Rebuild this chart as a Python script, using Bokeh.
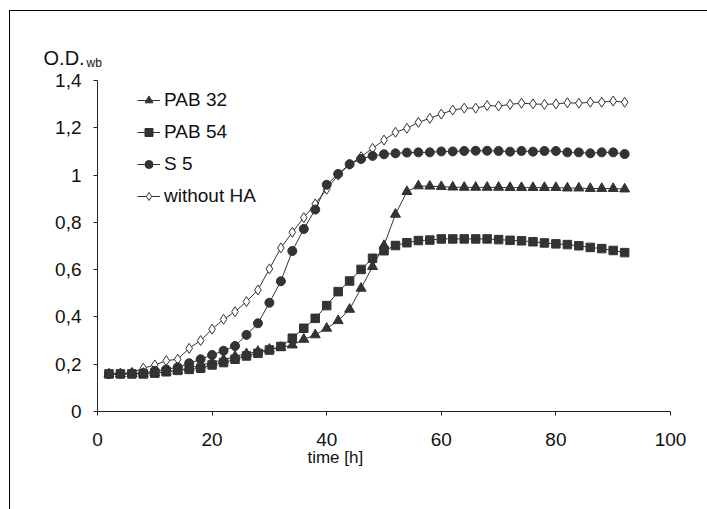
from bokeh.plotting import figure
from bokeh.models import Range1d, FixedTicker, Legend, LegendItem, Label
from bokeh.embed import file_html
from bokeh.resources import INLINE

# ---- data ----
time_h = [2, 4, 6, 8, 10, 12, 14, 16, 18, 20, 22, 24, 26, 28, 30, 32, 34, 36, 38, 40, 42, 44, 46,
          48, 50, 52, 54, 56, 58, 60, 62, 64, 66, 68, 70, 72, 74, 76, 78, 80, 82, 84, 86, 88, 90, 92]

pab32 = [0.158, 0.159, 0.160, 0.161, 0.164, 0.168, 0.174, 0.184, 0.196, 0.207, 0.219, 0.233, 0.244,
         0.254, 0.263, 0.271, 0.281, 0.305, 0.324, 0.352, 0.384, 0.432, 0.521, 0.613, 0.702, 0.834,
         0.930, 0.954, 0.953, 0.951, 0.949, 0.948, 0.948, 0.948, 0.948, 0.947, 0.947, 0.947, 0.947,
         0.947, 0.945, 0.945, 0.943, 0.943, 0.943, 0.941]

pab54 = [0.159, 0.159, 0.159, 0.159, 0.162, 0.168, 0.174, 0.178, 0.183, 0.197, 0.207, 0.221, 0.235,
         0.246, 0.260, 0.275, 0.310, 0.352, 0.394, 0.448, 0.507, 0.552, 0.601, 0.648, 0.680, 0.702,
         0.714, 0.723, 0.725, 0.730, 0.730, 0.730, 0.730, 0.730, 0.727, 0.724, 0.722, 0.718, 0.713,
         0.709, 0.706, 0.701, 0.694, 0.689, 0.681, 0.672]

s5 = [0.159, 0.160, 0.161, 0.163, 0.172, 0.178, 0.187, 0.204, 0.221, 0.239, 0.257, 0.277, 0.324,
      0.373, 0.460, 0.551, 0.679, 0.772, 0.854, 0.959, 1.005, 1.046, 1.068, 1.081, 1.088, 1.092,
      1.095, 1.096, 1.096, 1.100, 1.100, 1.102, 1.103, 1.103, 1.102, 1.099, 1.102, 1.099, 1.102,
      1.102, 1.096, 1.096, 1.092, 1.096, 1.096, 1.089]

without_ha = [0.159, 0.160, 0.165, 0.183, 0.197, 0.215, 0.221, 0.267, 0.300, 0.348, 0.390, 0.422,
              0.465, 0.514, 0.603, 0.692, 0.758, 0.820, 0.878, 0.940, 1.000, 1.045, 1.078, 1.113,
              1.148, 1.181, 1.198, 1.223, 1.240, 1.258, 1.275, 1.283, 1.283, 1.294, 1.292, 1.299,
              1.304, 1.301, 1.299, 1.301, 1.306, 1.304, 1.308, 1.308, 1.313, 1.308]

series_names = ["PAB 32", "PAB 54", "S 5", "without HA"]

x_ticks = [0, 20, 40, 60, 80, 100]
y_ticks = [0, 0.2, 0.4, 0.6, 0.8, 1.0, 1.2, 1.4]
y_tick_labels = ["0", "0,2", "0,4", "0,6", "0,8", "1", "1,2", "1,4"]

x_label = "time [h]"
y_label_main = "O.D."
y_label_sub = "wb"

# ---- figure ----
FONT = "Liberation Sans"
INK = "#333333"
TXT = "#111111"

p = figure(width=707, height=509, output_backend="svg", toolbar_location=None,
           x_range=Range1d(0, 100), y_range=Range1d(0, 1.4),
           min_border_left=97, min_border_right=37, min_border_top=80, min_border_bottom=98)
# thin frame lines along the top and left of the picture (as in the scanned figure)
p.styles = {
    "background": "linear-gradient(#000,#000) 9px 10px / 698px 1px no-repeat, "
                  "linear-gradient(#000,#000) 9px 10px / 1px 499px no-repeat, #ffffff"
}
p.border_fill_color = None
p.background_fill_color = None
p.outline_line_color = None
p.grid.visible = False

for ax in (p.xaxis[0], p.yaxis[0]):
    ax.axis_line_color = "#222222"
    ax.axis_line_width = 1
    ax.major_tick_line_color = "#222222"
    ax.major_tick_in = 0
    ax.major_tick_out = 4
    ax.minor_tick_line_color = None
    ax.major_label_text_font = FONT
    ax.major_label_text_font_size = "19px"
    ax.major_label_text_color = TXT

p.xaxis.ticker = FixedTicker(ticks=x_ticks)
p.yaxis.ticker = FixedTicker(ticks=y_ticks)
p.yaxis.major_label_overrides = {t: s for t, s in zip(y_ticks, y_tick_labels)}
p.xaxis.major_label_standoff = 17
p.yaxis.major_label_standoff = 12

# draw order: without HA bottom, PAB 54 on top
l_wo = p.line(time_h, without_ha, line_color=INK, line_width=1)
m_wo = p.scatter(time_h, without_ha, marker="diamond", size=10, fill_color="white",
                 line_color=INK, line_width=1)
l_s5 = p.line(time_h, s5, line_color=INK, line_width=1)
m_s5 = p.scatter(time_h, s5, marker="circle", size=9, fill_color=INK, line_color=INK)
l_32 = p.line(time_h, pab32, line_color=INK, line_width=1)
m_32 = p.scatter(time_h, pab32, marker="triangle", size=10, fill_color=INK, line_color=INK)
l_54 = p.line(time_h, pab54, line_color=INK, line_width=1)
m_54 = p.scatter(time_h, pab54, marker="square", size=8.5, fill_color=INK, line_color=INK)

legend = Legend(items=[
    LegendItem(label=series_names[0], renderers=[l_32, m_32]),
    LegendItem(label=series_names[1], renderers=[l_54, m_54]),
    LegendItem(label=series_names[2], renderers=[l_s5, m_s5]),
    LegendItem(label=series_names[3], renderers=[l_wo, m_wo]),
], location=(40, 204), orientation="vertical")
legend.padding = 0
legend.margin = 0
legend.spacing = 10
legend.glyph_width = 23
legend.glyph_height = 20
legend.label_height = 20
legend.label_standoff = 4
legend.label_text_font = FONT
legend.label_text_font_size = "19px"
legend.label_text_color = TXT
legend.border_line_color = None
legend.background_fill_alpha = 0
p.add_layout(legend)

# texts outside the plotting frame go in the side panels (not clipped to the frame)
p.add_layout(Label(x=41.5, y=-0.195, text=x_label,
                   text_font=FONT, text_font_size="17px", text_color=TXT,
                   text_align="center", text_baseline="middle"), "below")
p.add_layout(Label(x=-9.42, y=1.4954, text=y_label_main,
                   text_font=FONT, text_font_size="20px", text_color=TXT,
                   text_align="left", text_baseline="middle"), "above")
p.add_layout(Label(x=-1.92, y=1.4738, text=y_label_sub,
                   text_font=FONT, text_font_size="12px", text_color=TXT,
                   text_align="left", text_baseline="middle"), "above")

open("out.html", "w").write(file_html(p, INLINE))
